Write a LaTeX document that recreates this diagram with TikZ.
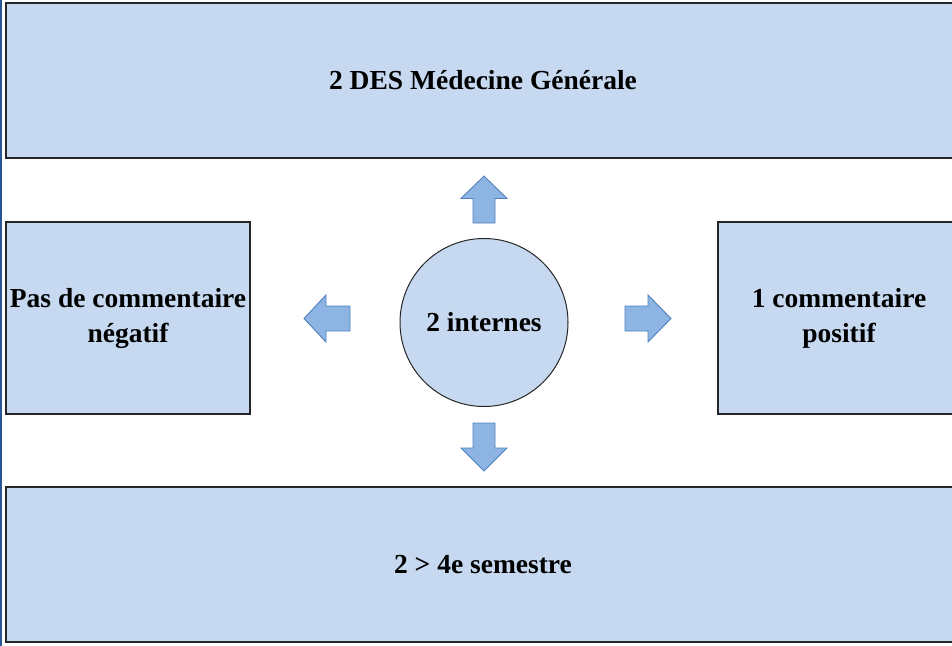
\documentclass[tikz,border=0pt]{standalone}
\usepackage{fontspec}
\setmainfont{Liberation Serif}[BoldFont={Liberation Serif Bold}]
\tikzset{
  boxfill/.style={draw=black!85, line width=1.3pt, fill=boxblue},
  lbl/.style={font=\bfseries\fontsize{27.5}{35}\selectfont, align=center, inner sep=0pt},
  blockarrow/.style={draw=arrowedge, line width=0.9pt, fill=arrowfill, line join=miter},
}
\definecolor{boxblue}{RGB}{198,217,240}
\definecolor{arrowfill}{RGB}{142,180,227}
\definecolor{arrowedge}{RGB}{79,129,189}
\definecolor{sideline}{RGB}{40,85,150}
\begin{document}
\begin{tikzpicture}[x=1pt,y=-1pt]
\useasboundingbox (0,0) rectangle (952,645);
\clip (0,0) rectangle (952,645);
% left thin blue line
\draw[sideline, line width=1.6pt] (1,-5) -- (1,650);
% boxes
\draw[boxfill] (6,3) rectangle (965,158);
\node[lbl] (top) at (483,80.5) {2 DES Médecine Générale};
\draw[boxfill] (6,222) rectangle (250,414);
\node[lbl] (left) at (128,318) {Pas de commentaire\\négatif};
\draw[boxfill] (718,222) rectangle (965,414);
\node[lbl] (right) at (839,318) {1 commentaire\\positif};
\draw[boxfill] (6,487) rectangle (965,642);
\node[lbl] (bottom) at (483,564.5) {2 > 4e semestre};
% circle
\node[circle, draw=black!85, line width=1pt, fill=boxblue, minimum size=168pt, inner sep=0pt] (c) at (484,322.5) {};
\node[lbl] (ctext) at (c.center) {2 internes};
% block arrows
\draw[blockarrow] (484,176) -- (507,198.5) -- (495,198.5) -- (495,223) -- (473,223) -- (473,198.5) -- (461,198.5) -- cycle;
\draw[blockarrow] (484,471) -- (507,448) -- (495,448) -- (495,423) -- (473,423) -- (473,448) -- (461,448) -- cycle;
\draw[blockarrow] (304,318.5) -- (326,295) -- (326,306) -- (350,306) -- (350,331) -- (326,331) -- (326,342) -- cycle;
\draw[blockarrow] (671,318.5) -- (648,295) -- (648,306) -- (625,306) -- (625,331) -- (648,331) -- (648,342) -- cycle;
\end{tikzpicture}
\end{document}
